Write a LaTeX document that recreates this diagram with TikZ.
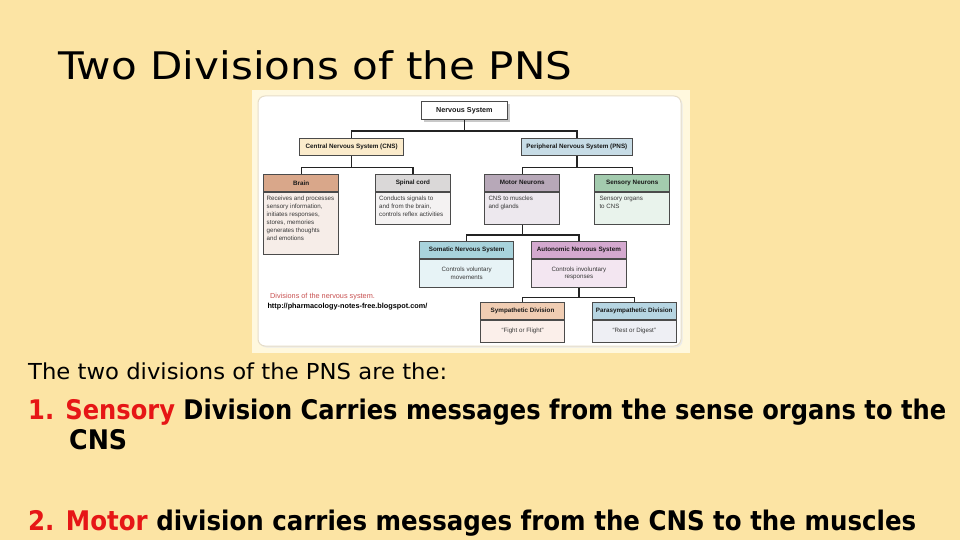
\documentclass[tikz,border=0pt]{standalone}
\usepackage{fontspec}
\usepackage{graphicx}
\setmainfont{DejaVu Sans}
\newfontfamily\insetfont{Liberation Sans}
\usetikzlibrary{shadows}
\definecolor{bg}{RGB}{252,228,164}
\definecolor{frame}{RGB}{255,248,222}
\definecolor{panelline}{RGB}{230,221,200}
\definecolor{boxline}{RGB}{75,75,75}
\definecolor{connc}{RGB}{35,35,35}
\definecolor{redtxt}{RGB}{230,22,22}
\definecolor{capred}{RGB}{200,80,80}
\definecolor{cnsfill}{RGB}{251,235,203}
\definecolor{pnsfill}{RGB}{199,220,230}
\definecolor{brainH}{RGB}{217,167,138}
\definecolor{brainB}{RGB}{246,237,232}
\definecolor{spinH}{RGB}{218,216,216}
\definecolor{spinB}{RGB}{244,242,242}
\definecolor{motH}{RGB}{183,168,184}
\definecolor{motB}{RGB}{237,232,238}
\definecolor{senH}{RGB}{163,203,174}
\definecolor{senB}{RGB}{233,243,236}
\definecolor{somH}{RGB}{168,211,220}
\definecolor{somB}{RGB}{231,243,246}
\definecolor{autH}{RGB}{212,169,207}
\definecolor{autB}{RGB}{243,230,241}
\definecolor{symH}{RGB}{240,205,179}
\definecolor{symB}{RGB}{251,239,234}
\definecolor{parH}{RGB}{182,213,226}
\definecolor{parB}{RGB}{238,239,244}
\begin{document}
\begin{tikzpicture}[x=1pt,y=-1pt,
  box/.style={draw=boxline, line width=0.8pt, inner sep=0pt, anchor=north west,
    font=\insetfont\bfseries\fontsize{6.3}{7}\selectfont, text=black!90},
  bodybox/.style={draw=boxline, line width=0.8pt, inner sep=0pt, anchor=north west},
  btxt/.style={anchor=north west, inner sep=0pt, align=left,
    font=\insetfont\fontsize{6.2}{7.9}\selectfont, text=black!78},
  ctxt/.style={anchor=center, inner sep=0pt, align=center,
    font=\insetfont\fontsize{6.2}{7.7}\selectfont, text=black!78},
  conn/.style={draw=connc, line width=1.3pt},
  maintxt/.style={anchor=base west, inner sep=0pt, text=black}]
\useasboundingbox (0,0) rectangle (960,540);
\fill[bg] (0,0) rectangle (960,540);
% inset picture
\fill[frame] (252,90) rectangle (690,353);
\fill[black!8, rounded corners=7pt] (259.5,97.5) rectangle (682.5,347.5);
\draw[panelline, line width=1pt, fill=white, rounded corners=7pt] (258,96) rectangle (681,346);
% top level
\node[box, fill=white, minimum width=86pt, minimum height=18pt,
  font=\insetfont\bfseries\fontsize{7.2}{8}\selectfont,
  drop shadow={shadow xshift=3pt, shadow yshift=-3pt, opacity=0.3, fill=black!70}] (ns) at (421,101) {Nervous System};
\node[box, fill=cnsfill, minimum width=104pt, minimum height=17.3pt] (cns) at (299.3,138) {Central Nervous System (CNS)};
\node[box, fill=pnsfill, minimum width=111.6pt, minimum height=17.3pt] (pns) at (520.7,138) {Peripheral Nervous System (PNS)};
% second level
\node[box, fill=brainH, minimum width=75pt, minimum height=16.7pt] (brainh) at (263.3,174) {Brain};
\node[bodybox, fill=brainB, minimum width=75pt, minimum height=62.6pt] (brainb) at (brainh.south west) {};
\node[btxt] (braint) at ([xshift=3.2pt,yshift=-4.5pt]brainb.north west)
  {Receives and processes\\sensory information,\\initiates responses,\\stores, memories\\generates thoughts\\and emotions};
\node[box, fill=spinH, minimum width=75pt, minimum height=16.7pt] (spinh) at (375,174) {Spinal cord};
\node[bodybox, fill=spinB, minimum width=75pt, minimum height=32.6pt] (spinb) at (spinh.south west) {};
\node[btxt] (spint) at ([xshift=4pt,yshift=-4.5pt]spinb.north west)
  {Conducts signals to\\and from the brain,\\controls reflex activities};
\node[box, fill=motH, minimum width=75pt, minimum height=16.7pt] (moth) at (484.3,174) {Motor Neurons};
\node[bodybox, fill=motB, minimum width=75pt, minimum height=32.6pt] (motb) at (moth.south west) {};
\node[btxt] (mott) at ([xshift=4pt,yshift=-4.5pt]motb.north west)
  {CNS to muscles\\and glands};
\node[box, fill=senH, minimum width=75pt, minimum height=16.7pt] (senh) at (594.3,174) {Sensory Neurons};
\node[bodybox, fill=senB, minimum width=75pt, minimum height=32.6pt] (senb) at (senh.south west) {};
\node[btxt] (sent) at ([xshift=5pt,yshift=-4.5pt]senb.north west)
  {Sensory organs\\to CNS};
% third level
\node[box, fill=somH, minimum width=94pt, minimum height=17.3pt] (somh) at (419.3,241) {Somatic Nervous System};
\node[bodybox, fill=somB, minimum width=94pt, minimum height=27.7pt] (somb) at (somh.south west) {};
\node[ctxt] (somt) at (somb.center) {Controls voluntary\\movements};
\node[box, fill=autH, minimum width=95pt, minimum height=17.3pt] (auth) at (531,241) {Autonomic Nervous System};
\node[bodybox, fill=autB, minimum width=95pt, minimum height=27.7pt] (autb) at (auth.south west) {};
\node[ctxt] (autt) at (autb.center) {Controls involuntary\\responses};
% fourth level
\node[box, fill=symH, minimum width=84.3pt, minimum height=17.6pt] (symh) at (480,301.7) {Sympathetic Division};
\node[bodybox, fill=symB, minimum width=84.3pt, minimum height=21.7pt] (symb) at (symh.south west) {};
\node[ctxt] (symt) at (symb.center) {“Fight or Flight”};
\node[box, fill=parH, minimum width=84.3pt, minimum height=17.6pt] (parh) at (591.7,301.7) {Parasympathetic Division};
\node[bodybox, fill=parB, minimum width=84.3pt, minimum height=21.7pt] (parb) at (parh.south west) {};
\node[ctxt] (part) at (parb.center) {“Rest or Digest”};
% connectors
\draw[conn] (ns.south) -- ++(0,11.3) coordinate (j1);
\draw[conn] (cns.north) |- (j1) -| (pns.north);
\draw[conn] (cns.south) -- ++(0,11.7) coordinate (j2);
\draw[conn] (brainh.north) |- (j2) -| (spinh.north);
\draw[conn] (pns.south) -- ++(0,11.7) coordinate (j3);
\draw[conn] (moth.north) |- (j3) -| (senh.north);
\draw[conn] (motb.south) -- ++(0,10) coordinate (j4);
\draw[conn] (somh.north) |- (j4) -| (auth.north);
\draw[conn] (autb.south) -- ++(0,9.7) coordinate (j5);
\draw[conn] (symh.north) |- (j5) -| (parh.north);
% caption
\node[anchor=base west, inner sep=0pt, text=capred, font=\insetfont\fontsize{7.3}{8}\selectfont] (cap) at (270,298.5) {Divisions of the nervous system.};
\node[anchor=base west, inner sep=0pt, text=black, font=\insetfont\bfseries\fontsize{7.3}{8}\selectfont] (url) at (267.3,308.8) {http://pharmacology-notes-free.blogspot.com/};
% slide text
\node[maintxt] (title) at (58,80) {\fontsize{38}{40}\selectfont\resizebox{514pt}{\height}{Two Divisions of the PNS}};
\node[maintxt] (l0) at (28,379) {\fontsize{22}{24}\selectfont\resizebox{419pt}{\height}{The two divisions of the PNS are the:}};
\node[maintxt] (l1) at (28,419) {\fontsize{27}{30}\selectfont\bfseries\resizebox{918pt}{\height}{\textcolor{redtxt}{1. Sensory} Division Carries messages from the sense organs to the}};
\node[maintxt] (l1b) at (69,449) {\fontsize{27}{30}\selectfont\bfseries\resizebox{58pt}{\height}{CNS}};
\node[maintxt] (l2) at (28,530) {\fontsize{27}{30}\selectfont\bfseries\resizebox{888pt}{\height}{\textcolor{redtxt}{2. Motor} division carries messages from the CNS to the muscles}};
\end{tikzpicture}
\end{document}
